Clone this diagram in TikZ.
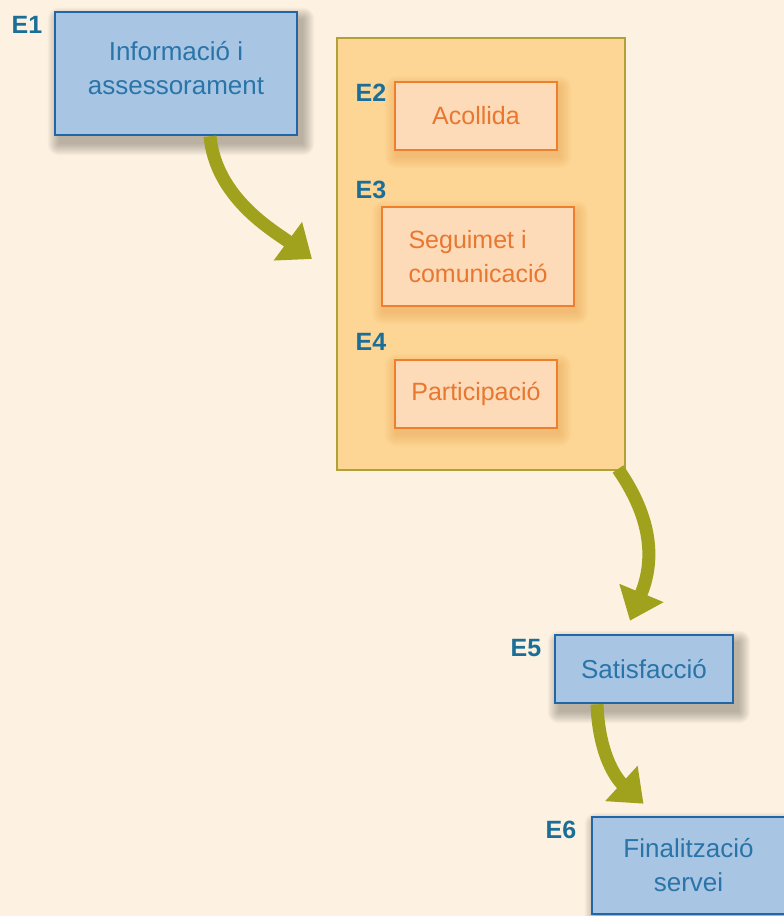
\documentclass[tikz,border=0pt]{standalone}
\usepackage{fontspec}
\setmainfont{Liberation Sans}
\usetikzlibrary{arrows.meta,positioning}

\definecolor{paper}{HTML}{FDF2E1}
\definecolor{blueFill}{HTML}{A8C6E4}
\definecolor{blueLine}{HTML}{2366A6}
\definecolor{blueText}{HTML}{2A74A8}
\definecolor{tagBlue}{HTML}{1A6E98}
\definecolor{groupFill}{HTML}{FDD594}
\definecolor{groupLine}{HTML}{B0A236}
\definecolor{peachFill}{HTML}{FDDAB8}
\definecolor{peachLine}{HTML}{EE7F2D}
\definecolor{peachText}{HTML}{E8772F}
\definecolor{flowArrow}{HTML}{A0A21E}

\pgfdeclarelayer{groundlayer}
\pgfdeclarelayer{shadelayer}
\pgfsetlayers{groundlayer,shadelayer,main}

% soft shadow behind a node: node, colour, x offset, y offset
\newcommand{\boxshade}[4]{%
  \foreach \k in {0,...,11}{%
    \fill[#2, opacity=0.025, rounded corners=\k pt]
      ([shift={(#3-\k,#4-\k)}]#1.north west) rectangle
      ([shift={(#3+\k,#4+\k)}]#1.south east);
  }}

\tikzset{
  txt/.style={font=\fontsize{25}{34}\selectfont},
  bluebox/.style={font=\fontsize{26}{34}\selectfont, draw=blueLine, line width=2.6pt,
    fill=blueFill, text=blueText, align=center, inner sep=0pt},
  peachbox/.style={txt, draw=peachLine, line width=2pt, fill=peachFill,
    text=peachText, align=center, inner sep=0pt},
  tag/.style={font=\fontsize{25}{25}\selectfont\bfseries, text=tagBlue, inner sep=0pt},
  flow/.style={draw=flowArrow, line width=13pt,
    -{Triangle[width=46pt,length=30pt]}, fill=none},
}

\begin{document}
\begin{tikzpicture}[x=1pt,y=-1pt]
\useasboundingbox (0,0) rectangle (784,916);
\begin{pgfonlayer}{groundlayer}
  \fill[paper] (0,0) rectangle (784,916);
  \node[draw=groupLine, line width=2pt, fill=groupFill,
        minimum width=288pt, minimum height=432pt] (grp) at (481,254) {};
\end{pgfonlayer}

% stages
\node[bluebox, minimum width=242pt, minimum height=123pt,
      text depth=12pt] (e1) at (176,73.5)
  {Informació i\\assessorament};
\node[peachbox, minimum width=162pt, minimum height=68pt] (e2) at (476,116)
  {Acollida};
\node[peachbox, align=left, minimum width=192pt, minimum height=99pt] (e3) at (478,256.5)
  {Seguimet i\\comunicació};
\node[peachbox, minimum width=162pt, minimum height=68pt] (e4) at (476,394)
  {Participació};
\node[bluebox, minimum width=178pt, minimum height=68pt] (e5) at (644,669)
  {Satisfacció};
\node[bluebox, minimum width=193pt, minimum height=97pt] (e6) at (688.5,865.5)
  {Finalització\\servei};

% stage tags
\node[tag] (t1) at (27,25) {E1};
\node[tag] (t2) at (371,93) {E2};
\node[tag] (t3) at (371,190) {E3};
\node[tag] (t4) at (371,342) {E4};
\node[tag] (t5) at (526,648) {E5};
\node[tag] (t6) at (561,830) {E6};

\begin{pgfonlayer}{shadelayer}
  \boxshade{e1}{black}{5}{8}
  \boxshade{e5}{black}{5}{8}
  \boxshade{e6}{black}{5}{8}
  \boxshade{e2}{peachLine}{2}{6}
  \boxshade{e3}{peachLine}{2}{6}
  \boxshade{e4}{peachLine}{2}{6}
\end{pgfonlayer}

% flow arrows
\draw[flow] ([xshift=34pt]e1.south) .. controls +(6,62) and +(-38,-28) ..
  ([xshift=-24pt,yshift=-5pt]grp.west);
\draw[flow] ([xshift=-8pt,yshift=2pt]grp.south east) .. controls +(36,52) and +(24,-58) ..
  ([xshift=-14pt,yshift=13pt]e5.north);
\draw[flow] ([xshift=-47pt]e5.south) .. controls +(2,55) and +(-24,-22) ..
  ([xshift=-45pt,yshift=12pt]e6.north);
\end{tikzpicture}
\end{document}
